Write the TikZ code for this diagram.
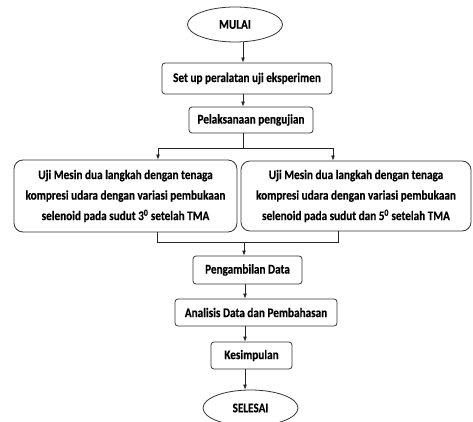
\documentclass[tikz,border=0pt]{standalone}
\usepackage{fontspec}
\setmainfont{Carlito}[FakeStretch=0.85, BoldFeatures={FakeBold=0.3}]
\usetikzlibrary{shapes.geometric,arrows.meta}
\begin{document}
\begin{tikzpicture}[x=1pt,y=-1pt,
  every node/.style={font=\fontsize{13.2}{20.5}\selectfont\bfseries, text=black},
  box/.style={draw=black!80, line width=0.8pt, rounded corners=3pt, inner sep=0pt, align=center},
  bigbox/.style={draw=black!80, line width=0.8pt, rounded corners=9pt, inner sep=0pt, align=center},
  oval/.style={draw=black!80, line width=0.8pt, ellipse, inner sep=0pt},
  line/.style={draw=black!85, line width=0.8pt},
  arr/.style={line, -{Latex[length=5pt,width=4pt]}}]
\useasboundingbox (0,0) rectangle (473,422);
\node[oval, minimum width=95pt, minimum height=35pt] (mulai) at (235,24.5) {MULAI};
\node[box, minimum width=170pt, minimum height=31pt] (setup) at (247,78.5) {Set up peralatan uji eksperimen};
\node[box, minimum width=124pt, minimum height=26pt] (pelak) at (251,120) {Pelaksanaan pengujian};
\node[bigbox, minimum width=223pt, minimum height=72pt] (left) at (125.5,196) {Uji Mesin dua langkah dengan tenaga\\kompresi udara dengan variasi pembukaan\\selenoid pada sudut 3\textsuperscript{0} setelah TMA};
\node[bigbox, minimum width=230pt, minimum height=70pt] (right) at (356,196) {Uji Mesin dua langkah dengan tenaga\\kompresi udara dengan variasi pembukaan\\selenoid pada sudut dan 5\textsuperscript{0} setelah TMA};
\node[box, minimum width=109pt, minimum height=28pt] (peng) at (247.5,270) {Pengambilan Data};
\node[box, minimum width=162pt, minimum height=27pt] (anal) at (256,312.5) {Analisis Data dan Pembahasan};
\node[box, minimum width=81pt, minimum height=27pt] (kesim) at (251.5,355.5) {Kesimpulan};
\node[oval, minimum width=95pt, minimum height=36pt] (seles) at (250.5,408) {SELESAI};
\coordinate (c) at (243,0);
\coordinate (c2) at (245,0);
\coordinate (split) at (243,148);
\coordinate (lx) at (158,0);
\coordinate (rx) at (333,0);
\coordinate (lb) at (157,0);
\coordinate (rb) at (338,0);
\coordinate (merge) at (244,242);
\draw[arr] (mulai.south -| c) -- (setup.north -| c);
\draw[arr] (setup.south -| c) -- (pelak.north -| c);
\draw[line] (pelak.south -| c) -- (split);
\draw[arr] (split) -| (left.north -| lx);
\draw[arr] (split) -| (right.north -| rx);
\draw[line] (left.south -| lb) |- (merge);
\draw[line] (right.south -| rb) |- (merge);
\draw[arr] (merge) -- (peng.north -| merge);
\draw[arr] (peng.south -| c2) -- (anal.north -| c2);
\draw[arr] (anal.south -| c2) -- (kesim.north -| c2);
\draw[arr] (kesim.south -| c2) -- (seles.north -| c2);
\end{tikzpicture}
\end{document}
